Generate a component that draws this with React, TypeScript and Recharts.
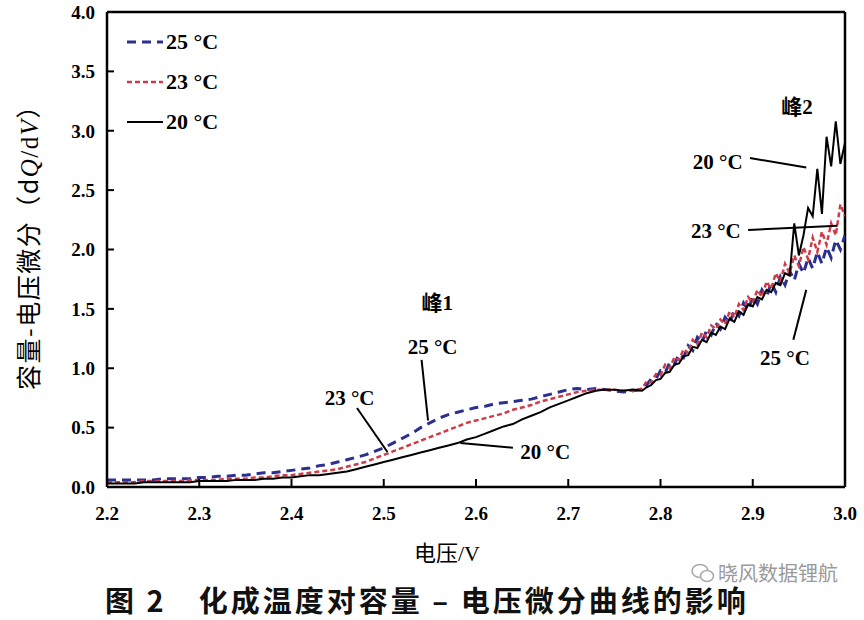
import { LineChart, Line, XAxis, YAxis, ReferenceLine, ReferenceDot, Legend } from "recharts";

// 电压 (V)
const voltage = [
  2.2, 2.21, 2.22, 2.23, 2.24, 2.25, 2.26, 2.27, 2.28, 2.29,
  2.3, 2.31, 2.32, 2.33, 2.34, 2.35, 2.36, 2.37, 2.38, 2.39,
  2.4, 2.41, 2.42, 2.43, 2.44, 2.45, 2.46, 2.47, 2.48, 2.49,
  2.5, 2.51, 2.52, 2.53, 2.54, 2.55, 2.56, 2.57, 2.58, 2.59,
  2.6, 2.61, 2.62, 2.63, 2.64, 2.65, 2.66, 2.67, 2.68, 2.69,
  2.7, 2.71, 2.72, 2.73, 2.74, 2.75, 2.76, 2.77,
  2.78, 2.785, 2.79, 2.795, 2.8, 2.805, 2.81, 2.815, 2.82, 2.825,
  2.83, 2.835, 2.84, 2.845, 2.85, 2.855, 2.86, 2.865, 2.87, 2.875,
  2.88, 2.885, 2.89, 2.895, 2.9, 2.905, 2.91, 2.915, 2.92, 2.925,
  2.93, 2.935, 2.94, 2.945, 2.95, 2.955, 2.96, 2.965, 2.97, 2.975,
  2.98, 2.985, 2.99, 2.995, 3.0,
];

// dQ/dV, 25 °C
const dq25 = [
  0.06, 0.06, 0.06, 0.06, 0.06, 0.06, 0.07, 0.07, 0.07, 0.07,
  0.08, 0.08, 0.09, 0.09, 0.1, 0.1, 0.11, 0.12, 0.12, 0.13,
  0.14, 0.15, 0.16, 0.18, 0.19, 0.21, 0.23, 0.25, 0.27, 0.3,
  0.33, 0.37, 0.41, 0.45, 0.5, 0.54, 0.58, 0.61, 0.63, 0.65,
  0.67, 0.68, 0.7, 0.71, 0.72, 0.73, 0.74, 0.76, 0.78, 0.8,
  0.82, 0.83, 0.82, 0.83, 0.82, 0.81, 0.8, 0.81,
  0.82, 0.86, 0.91, 0.91, 0.98, 0.96, 1.05, 1.03, 1.12, 1.09,
  1.19, 1.15, 1.26, 1.22, 1.32, 1.28, 1.38, 1.33, 1.43, 1.38,
  1.49, 1.44, 1.55, 1.49, 1.6, 1.54, 1.66, 1.6, 1.72, 1.64,
  1.77, 1.7, 1.82, 1.74, 1.88, 1.8, 1.93, 1.84, 1.98, 1.88,
  2.02, 1.93, 2.08, 2.0, 2.12,
];

// dQ/dV, 23 °C
const dq23 = [
  0.04, 0.04, 0.04, 0.04, 0.05, 0.05, 0.05, 0.05, 0.05, 0.06,
  0.06, 0.06, 0.06, 0.07, 0.07, 0.07, 0.08, 0.08, 0.09, 0.1,
  0.1, 0.11, 0.12, 0.13, 0.14, 0.15, 0.17, 0.19, 0.21, 0.24,
  0.27, 0.3, 0.33, 0.36, 0.39, 0.42, 0.45, 0.48, 0.51, 0.54,
  0.56, 0.58, 0.6, 0.62, 0.65, 0.67, 0.69, 0.72, 0.74, 0.76,
  0.78, 0.8, 0.81, 0.82, 0.82, 0.82, 0.81, 0.81,
  0.83, 0.89, 0.88, 0.95, 0.94, 1.03, 1.0, 1.09, 1.07, 1.16,
  1.13, 1.24, 1.2, 1.3, 1.26, 1.36, 1.33, 1.41, 1.37, 1.48,
  1.43, 1.54, 1.49, 1.6, 1.55, 1.66, 1.6, 1.73, 1.67, 1.8,
  1.73, 1.88, 1.8, 1.95, 1.86, 2.02, 1.92, 2.1, 1.98, 2.15,
  2.04, 2.22, 2.12, 2.38, 2.28,
];

// dQ/dV, 20 °C
const dq20 = [
  0.03, 0.03, 0.03, 0.03, 0.04, 0.04, 0.04, 0.04, 0.04, 0.04,
  0.05, 0.05, 0.05, 0.05, 0.06, 0.06, 0.06, 0.07, 0.07, 0.08,
  0.08, 0.09, 0.1, 0.1, 0.11, 0.12, 0.13, 0.15, 0.17, 0.19,
  0.21, 0.23, 0.25, 0.27, 0.29, 0.31, 0.33, 0.35, 0.37, 0.4,
  0.42, 0.45, 0.48, 0.51, 0.53, 0.57, 0.6, 0.63, 0.67, 0.7,
  0.73, 0.76, 0.79, 0.81, 0.82, 0.82, 0.81, 0.82,
  0.81, 0.84, 0.86, 0.9, 0.91, 0.96, 0.97, 1.03, 1.04, 1.1,
  1.11, 1.18, 1.17, 1.24, 1.22, 1.3, 1.28, 1.35, 1.33, 1.42,
  1.39, 1.48, 1.45, 1.54, 1.52, 1.6, 1.58, 1.66, 1.64, 1.72,
  1.7, 1.8, 1.78, 2.22, 1.95, 2.12, 2.35, 2.28, 2.68, 2.3,
  2.95, 2.7, 3.08, 2.72, 2.9,
];

const xTicks = [2.2, 2.3, 2.4, 2.5, 2.6, 2.7, 2.8, 2.9, 3.0];
const yTicks = [0, 0.5, 1, 1.5, 2, 2.5, 3, 3.5, 4];

const series = [
  { key: "t25", name: "25 °C", color: "#2b2f8f", width: 3, dash: "9 6" },
  { key: "t23", name: "23 °C", color: "#cf3b48", width: 2.5, dash: "5 3" },
  { key: "t20", name: "20 °C", color: "#000000", width: 2, dash: undefined },
];

// text callouts (data coordinates)
const notes = [
  { text: "峰1", x: 2.558, y: 1.55 },
  { text: "25 °C", x: 2.553, y: 1.18 },
  { text: "23 °C", x: 2.463, y: 0.75 },
  { text: "20 °C", x: 2.675, y: 0.295 },
  { text: "峰2", x: 2.948, y: 3.2 },
  { text: "20 °C", x: 2.862, y: 2.74 },
  { text: "23 °C", x: 2.86, y: 2.16 },
  { text: "25 °C", x: 2.935, y: 1.09 },
];

const leaders = [
  [{ x: 2.541, y: 1.07 }, { x: 2.548, y: 0.56 }],
  [{ x: 2.471, y: 0.665 }, { x: 2.504, y: 0.295 }],
  [{ x: 2.583, y: 0.37 }, { x: 2.64, y: 0.33 }],
  [{ x: 2.897, y: 2.77 }, { x: 2.958, y: 2.69 }],
  [{ x: 2.895, y: 2.165 }, { x: 2.992, y: 2.2 }],
  [{ x: 2.944, y: 1.24 }, { x: 2.958, y: 1.66 }],
];

const data = voltage.map((v, i) => ({ v, t25: dq25[i], t23: dq23[i], t20: dq20[i] }));

const SERIF = "'Liberation Serif', 'Times New Roman', 'Noto Sans CJK SC', serif";
const CJK = "'Noto Sans CJK SC', 'Liberation Serif', sans-serif";

const X_MARGIN = 20;
const Y_MARGIN = 12;

function XTick(props: any) {
  const { x, y, payload } = props;
  const axisY = y - X_MARGIN;
  return (
    <g>
      <line x1={x} x2={x} y1={axisY} y2={axisY - 8} stroke="#000" strokeWidth={2} />
      <text x={x} y={y} dy="0.71em" textAnchor="middle" fontFamily={SERIF} fontWeight={700} fontSize={19} fill="#000">
        {payload.value.toFixed(1)}
      </text>
    </g>
  );
}

function YTick(props: any) {
  const { x, y, payload } = props;
  const axisX = x + Y_MARGIN;
  return (
    <g>
      <line x1={axisX} x2={axisX + 7} y1={y} y2={y} stroke="#000" strokeWidth={2} />
      <text x={x} y={y} dy="0.36em" textAnchor="end" fontFamily={SERIF} fontWeight={700} fontSize={19} fill="#000">
        {payload.value.toFixed(1)}
      </text>
    </g>
  );
}

function YLabel() {
  return (
    <text
      transform="translate(29,241) rotate(-90)"
      textAnchor="middle"
      dy="0.36em"
      fontSize={25}
      letterSpacing={1.5}
      fill="#000"
      fontFamily={CJK}
    >
      <tspan>容量-电压微分（d</tspan>
      <tspan fontFamily={SERIF} fontStyle="italic">Q</tspan>
      <tspan fontFamily={SERIF}>/d</tspan>
      <tspan fontFamily={SERIF} fontStyle="italic">V</tspan>
      <tspan>）</tspan>
    </text>
  );
}

function XLabel() {
  return (
    <text x={447} y={553} textAnchor="middle" dy="0.36em" fontSize={22} fill="#000">
      <tspan fontFamily={CJK}>电压</tspan>
      <tspan fontFamily={SERIF}>/V</tspan>
    </text>
  );
}

function LegendBox() {
  return (
    <div>
      {series.map((s) => (
        <div key={s.key} style={{ display: "flex", alignItems: "center", height: 40 }}>
          <svg width={36} height={10}>
            <line x1={0} x2={36} y1={5} y2={5} stroke={s.color} strokeWidth={s.width} strokeDasharray={s.dash} />
          </svg>
          <span style={{ fontFamily: SERIF, fontWeight: 700, fontSize: 22, marginLeft: 3, color: "#000" }}>{s.name}</span>
        </div>
      ))}
    </div>
  );
}

export default function App() {
  return (
    <div style={{ position: "absolute", left: 0, top: 0, width: 864, height: 620, background: "#fff" }}>
      <LineChart width={864} height={580} data={data} margin={{ top: 12, right: 19, bottom: 0, left: 0 }}>
        <XAxis
          dataKey="v"
          type="number"
          domain={[2.2, 3.0]}
          ticks={xTicks}
          allowDataOverflow
          height={93}
          tickSize={0}
          tickMargin={X_MARGIN}
          tick={<XTick />}
          axisLine={{ stroke: "#000", strokeWidth: 2.5 }}
          label={<XLabel />}
        />
        <YAxis
          type="number"
          domain={[0, 4]}
          ticks={yTicks}
          allowDataOverflow
          width={107}
          tickSize={0}
          tickMargin={Y_MARGIN}
          tick={<YTick />}
          axisLine={{ stroke: "#000", strokeWidth: 2.5 }}
          label={<YLabel />}
        />
        <ReferenceLine y={4} stroke="#000" strokeWidth={2.5} />
        <ReferenceLine x={3.0} stroke="#000" strokeWidth={2.5} />
        <Legend
          layout="vertical"
          align="center"
          verticalAlign="middle"
          wrapperStyle={{ position: "absolute", left: 127, top: 22, width: 140, height: 130 }}
          content={<LegendBox />}
        />
        {series.map((s) => (
          <Line
            key={s.key}
            type="linear"
            dataKey={s.key}
            name={s.name}
            stroke={s.color}
            strokeWidth={s.width}
            strokeDasharray={s.dash}
            dot={false}
            activeDot={false}
            isAnimationActive={false}
          />
        ))}
        {leaders.map((seg, i) => (
          <ReferenceLine key={"l" + i} segment={seg} stroke="#000" strokeWidth={2} />
        ))}
        {notes.map((n, i) => (
          <ReferenceDot
            key={"n" + i}
            x={n.x}
            y={n.y}
            r={0}
            stroke="none"
            fill="none"
            label={{
              value: n.text,
              position: "center",
              fill: "#000",
              fontSize: 21,
              fontWeight: 700,
              fontFamily: SERIF,
            }}
          />
        ))}
      </LineChart>
      <div
        style={{
          position: "absolute",
          left: 690,
          top: 562,
          display: "flex",
          alignItems: "center",
          color: "#9a9a9a",
          fontFamily: CJK,
          fontSize: 20,
          lineHeight: "22px",
        }}
      >
        <svg width={26} height={22} style={{ marginRight: 2 }}>
          <ellipse cx={10} cy={9} rx={8} ry={6.5} fill="none" stroke="#aaa" strokeWidth={1.6} />
          <ellipse cx={17} cy={14} rx={6.5} ry={5.5} fill="#fff" stroke="#aaa" strokeWidth={1.6} />
        </svg>
        晓风数据锂航
      </div>
      <div
        style={{
          position: "absolute",
          left: 105,
          top: 584,
          fontFamily: CJK,
          fontWeight: 700,
          fontSize: 29,
          letterSpacing: 3,
          color: "#111",
          whiteSpace: "pre",
          lineHeight: "30px",
        }}
      >
        {"图 2　化成温度对容量 – 电压微分曲线的影响"}
      </div>
    </div>
  );
}
